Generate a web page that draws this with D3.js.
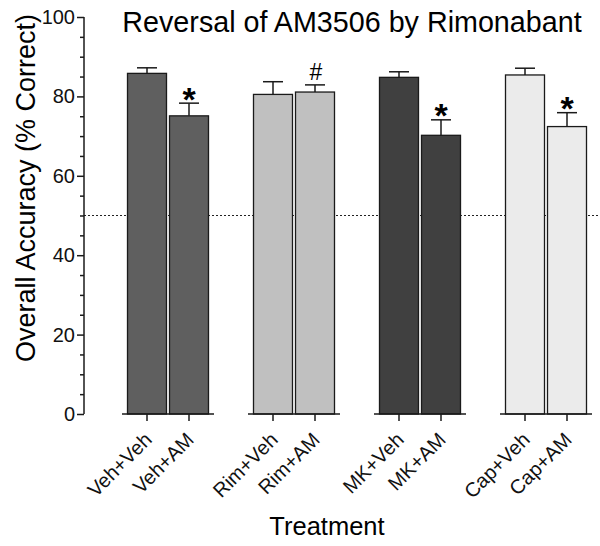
<!DOCTYPE html>
<html>
<head>
<meta charset="utf-8">
<script src="https://cdn.jsdelivr.net/npm/d3@7"></script>
<style>
  html, body { margin: 0; padding: 0; background: #fff; }
  svg { display: block; font-family: "Liberation Sans", Arial, Helvetica, sans-serif; }
</style>
</head>
<body>
<svg id="chart" width="600" height="546"></svg>
<script>
// ---- data ----
const groups = ["Veh", "Rim", "MK", "Cap"];
const categories = ["Veh+Veh", "Veh+AM", "Rim+Veh", "Rim+AM", "MK+Veh", "MK+AM", "Cap+Veh", "Cap+AM"];
const means = [85.8, 75.1, 80.5, 81.1, 84.8, 70.2, 85.4, 72.4];
const sems = [1.4, 3.2, 3.2, 1.8, 1.4, 3.9, 1.7, 3.5];
const marks = ["", "*", "", "#", "", "*", "", "*"];
const groupColors = ["#5f5f5f", "#c0c0c0", "#404040", "#ebebeb"];
const yTicks = [0, 20, 40, 60, 80, 100];
const yMinorTicks = [5, 10, 15, 25, 30, 35, 45, 50, 55, 65, 70, 75, 85, 90, 95];
const chanceLevel = 50;
const title = "Reversal of AM3506 by Rimonabant";
const xTitle = "Treatment";
const yTitle = "Overall Accuracy (% Correct)";

const rows = categories.map((c, i) => ({
  cat: c, group: groups[Math.floor(i / 2)], sub: i % 2,
  mean: means[i], sem: sems[i], mark: marks[i], color: groupColors[Math.floor(i / 2)]
}));

// ---- layout ----
const svg = d3.select("#chart");
const axisX = 84;
const y = d3.scaleLinear().domain([0, 100]).range([414, 17]);
const gx = d3.scalePoint().domain(groups).range([168, 546]);
const inner = d3.scaleBand().domain([0, 1]).range([-40.5, 40.5]).paddingInner(3 / 42).paddingOuter(0);
const cx = d => gx(d.group) + inner(d.sub) + inner.bandwidth() / 2;
const ink = "#1a1a1a";

// chance line
svg.append("line")
  .attr("x1", axisX).attr("x2", 598)
  .attr("y1", y(chanceLevel)).attr("y2", y(chanceLevel))
  .attr("stroke", "#222").attr("stroke-width", 1).attr("stroke-dasharray", "2,2");

// bars
svg.append("g").selectAll("rect").data(rows).join("rect")
  .attr("x", d => gx(d.group) + inner(d.sub))
  .attr("width", inner.bandwidth())
  .attr("y", d => y(d.mean))
  .attr("height", d => y(0) - y(d.mean))
  .attr("fill", d => d.color)
  .attr("stroke", ink).attr("stroke-width", 1.3);

// error bars
const eb = svg.append("g").attr("stroke", ink).attr("stroke-width", 1.5);
eb.selectAll("line.v").data(rows).join("line").attr("class", "v")
  .attr("x1", cx).attr("x2", cx)
  .attr("y1", d => y(d.mean)).attr("y2", d => y(d.mean + d.sem));
eb.selectAll("line.c").data(rows).join("line").attr("class", "c")
  .attr("x1", d => cx(d) - 10).attr("x2", d => cx(d) + 10)
  .attr("y1", d => y(d.mean + d.sem)).attr("y2", d => y(d.mean + d.sem));

// significance marks
svg.append("g").selectAll("text").data(rows.filter(d => d.mark)).join("text")
  .attr("x", d => cx(d) + (d.mark === "#" ? 1 : 0))
  .attr("y", d => y(d.mean + d.sem) + (d.mark === "*" ? 7.5 : -5))
  .attr("text-anchor", "middle")
  .attr("font-size", d => d.mark === "*" ? 34 : 23)
  .attr("font-weight", d => d.mark === "*" ? "bold" : "normal")
  .attr("fill", "#000")
  .text(d => d.mark);

// y axis
const yAxis = d3.axisLeft(y).tickValues(yTicks).tickSize(7).tickPadding(2).tickSizeOuter(0);
const yg = svg.append("g").attr("transform", `translate(${axisX},0)`).call(yAxis);
yg.selectAll(".tick text").attr("font-size", 20).attr("fill", "#111").attr("font-family", "Liberation Sans, Arial, sans-serif");
yg.selectAll("line, path").attr("stroke", ink).attr("stroke-width", 1.5);
yg.select(".domain").attr("d", `M0,${y(0)}V${y(100)}`);
const yMinor = d3.axisLeft(y).tickValues(yMinorTicks).tickSize(4).tickFormat("");
const ym = svg.append("g").attr("transform", `translate(${axisX},0)`).call(yMinor);
ym.select(".domain").remove();
ym.selectAll("line").attr("stroke", ink).attr("stroke-width", 1.5);

// x axis segments per group
const xg = svg.append("g");
xg.selectAll("line.seg").data(groups).join("line").attr("class", "seg")
  .attr("x1", g => gx(g) - 46).attr("x2", g => gx(g) + 46)
  .attr("y1", y(0)).attr("y2", y(0))
  .attr("stroke", ink).attr("stroke-width", 1.5);
xg.selectAll("line.tk").data(rows).join("line").attr("class", "tk")
  .attr("x1", cx).attr("x2", cx)
  .attr("y1", y(0)).attr("y2", y(0) + 7)
  .attr("stroke", ink).attr("stroke-width", 1.5);
xg.selectAll("text").data(rows).join("text")
  .attr("text-anchor", "end")
  .attr("transform", d => `translate(${cx(d) + 6},${y(0) + 27}) rotate(-45)`)
  .attr("font-size", 20).attr("fill", "#111")
  .text(d => d.cat);

// titles
svg.append("text").attr("x", 352).attr("y", 32).attr("text-anchor", "middle")
  .attr("font-size", 28.7).attr("fill", "#000").text(title);
svg.append("text").attr("x", 327).attr("y", 535).attr("text-anchor", "middle")
  .attr("font-size", 25.5).attr("fill", "#000").text(xTitle);
svg.append("text").attr("transform", "translate(35,188) rotate(-90)").attr("text-anchor", "middle")
  .attr("font-size", 27).attr("fill", "#000").text(yTitle);
</script>
</body>
</html>
